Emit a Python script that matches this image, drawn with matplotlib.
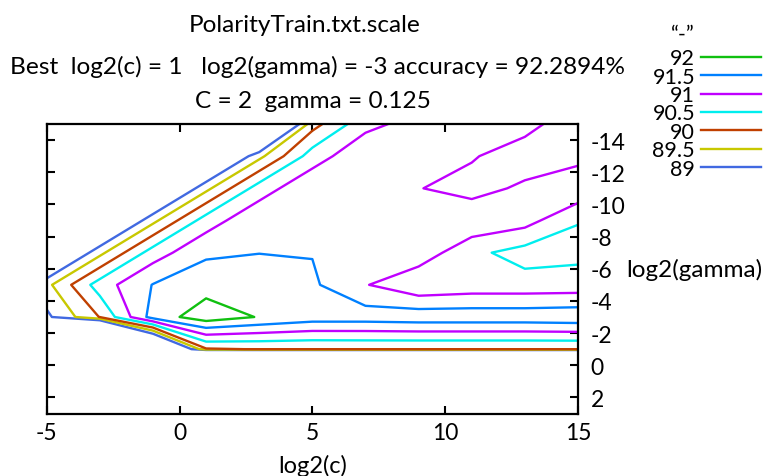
import matplotlib
matplotlib.use("Agg")
import matplotlib.pyplot as plt
from matplotlib.lines import Line2D
import numpy as np

plt.rcParams['font.family'] = ['Lato', 'DejaVu Sans']
plt.rcParams['axes.unicode_minus'] = False

# grid search points (grid.py defaults)
log2c = [-5, -3, -1, 1, 3, 5, 7, 9, 11, 13, 15]
log2g = [3, 1, -1, -3, -5, -7, -9, -11, -13, -15]

# cross validation accuracy (%), one row per log2(gamma)
acc_g3 = [50.1, 50.1, 50.2, 50.2, 50.2, 50.2, 50.2, 50.2, 50.2, 50.2, 50.2]
acc_g1 = [50.3, 51.0, 52.5, 53.0, 53.0, 53.0, 53.0, 53.0, 53.0, 53.0, 53.0]
acc_gm1 = [75.0, 80.0, 86.5, 89.95, 90.02, 90.02, 90.03, 90.02, 90.02, 90.02, 90.02]
acc_gm3 = [88.89, 90.02, 91.71, 92.2894, 91.97, 91.75, 91.75, 91.8, 91.8, 91.8, 91.84]
acc_gm5 = [89.36, 90.75, 91.52, 91.79, 91.8, 91.58, 91.03, 90.59, 90.7, 90.7, 90.72]
acc_gm7 = [87.56, 89.36, 90.75, 91.42, 91.49, 91.48, 91.3, 91.31, 90.62, 90.3, 90.37]
acc_gm9 = [85.0, 87.56, 89.36, 90.75, 91.4, 91.35, 91.3, 91.3, 91.4, 91.2, 90.52]
acc_gm11 = [82.0, 85.0, 87.56, 89.36, 90.75, 91.4, 91.3, 91.02, 90.8, 91.1, 91.4]
acc_gm13 = [78.0, 82.0, 85.0, 87.56, 89.36, 90.75, 91.4, 91.3, 91.05, 90.7, 90.83]
acc_gm15 = [75.0, 78.0, 82.0, 85.0, 86.5, 89.8, 90.85, 91.2, 91.3, 91.2, 90.63]

levels = [89, 89.5, 90, 90.5, 91, 91.5, 92]
level_colors = ['#4169e1', '#c8c800', '#c04000', '#00eeee', '#c000ff', '#0080ff', '#10c010']

Z = np.array([acc_g3, acc_g1, acc_gm1, acc_gm3, acc_gm5, acc_gm7,
              acc_gm9, acc_gm11, acc_gm13, acc_gm15])

W, H = 769, 477
fig = plt.figure(figsize=(W / 100, H / 100), dpi=100)
ax = fig.add_axes([46.7 / W, 1 - 414.5 / H, (578 - 46.7) / W, (414.5 - 125) / H])

ax.contour(log2c, log2g, Z, levels=levels, colors=level_colors, linewidths=1.7)

ax.set_xlim(-5, 15)
ax.set_ylim(3, -15)
ax.set_xticks([-5, 0, 5, 10, 15])
ax.set_yticks(range(-14, 3, 2))
ax.tick_params(axis='both', direction='in', length=6, width=1.5, labelsize=16.5,
               top=True, right=True, left=True, bottom=True,
               labelleft=False, labelright=True, pad=6)
ax.tick_params(axis='y', pad=9)
for sp in ax.spines.values():
    sp.set_linewidth(1.6)

ax.set_xlabel('log2(c)', fontsize=17, labelpad=8)
ax.yaxis.set_label_position('right')
ax.set_ylabel('log2(gamma)', fontsize=17.5, rotation=0, ha='left', va='center')
ax.yaxis.set_label_coords((626 - 46.7) / (578 - 46.7), 0.5)

# titles
tfs = 17.6
fig.text(305 / W, 1 - 32 / H, 'PolarityTrain.txt.scale', ha='center', va='baseline', fontsize=tfs)
fig.text(318 / W, 1 - 74 / H, 'Best  log2(c) = 1   log2(gamma) = -3 accuracy = 92.2894%',
         ha='center', va='baseline', fontsize=tfs)
fig.text(313 / W, 1 - 108 / H, 'C = 2  gamma = 0.125', ha='center', va='baseline', fontsize=tfs)

# key
kfs = 15.5
fig.text(695 / W, 1 - 41 / H, '\u201c-\u201d', ha='right', va='baseline', fontsize=kfs)
for i, (lev, col) in enumerate(zip(levels[::-1], level_colors[::-1])):
    y = 57.7 + i * 18.43
    fig.text(695 / W, 1 - (y + 7.5) / H, f'{lev:g}', ha='right', va='baseline', fontsize=kfs)
    fig.add_artist(Line2D([701 / W, 761 / W], [1 - y / H, 1 - y / H],
                          transform=fig.transFigure, color=col, lw=1.7))

fig.savefig('out.png', dpi=100)
